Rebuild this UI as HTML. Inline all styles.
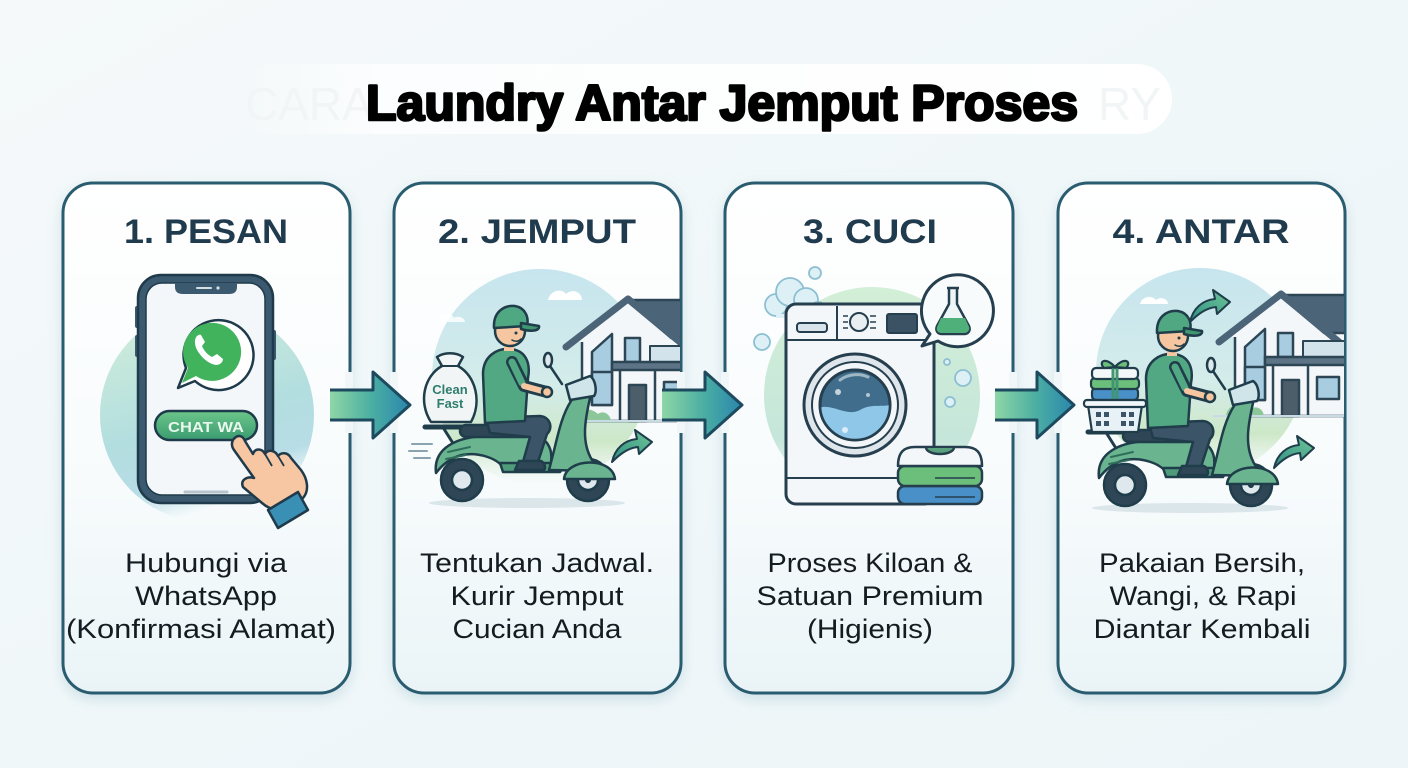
<!DOCTYPE html>
<html><head><meta charset="utf-8"><style>
html,body{margin:0;padding:0;width:1408px;height:768px;overflow:hidden;background:#f1f7f9}
svg{display:block}
</style></head><body>
<svg width="1408" height="768" viewBox="0 0 1408 768" xmlns="http://www.w3.org/2000/svg" xmlns:xlink="http://www.w3.org/1999/xlink">
<defs>
 <linearGradient id="bg" x1="0" y1="0" x2="1" y2="1">
  <stop offset="0" stop-color="#f5f9fa"/><stop offset="0.5" stop-color="#f0f7f9"/><stop offset="1" stop-color="#edf5f8"/>
 </linearGradient>
 <linearGradient id="cardg" x1="0" y1="0" x2="0" y2="1">
  <stop offset="0" stop-color="#ffffff"/><stop offset="0.6" stop-color="#f7fbfc"/><stop offset="1" stop-color="#eaf4f7"/>
 </linearGradient>
 <linearGradient id="c1g" x1="0" y1="0" x2="0.3" y2="1">
  <stop offset="0" stop-color="#d3efd9"/><stop offset="0.6" stop-color="#b3dedf"/><stop offset="0.85" stop-color="#a7d5e0" stop-opacity="0.8"/><stop offset="1" stop-color="#a7d5e0" stop-opacity="0"/>
 </linearGradient>
 <linearGradient id="skyg" x1="0" y1="0" x2="0" y2="1">
  <stop offset="0" stop-color="#c7e5ee"/><stop offset="0.55" stop-color="#d4ecea"/><stop offset="0.8" stop-color="#cde8c8"/><stop offset="1" stop-color="#dceedd" stop-opacity="0"/>
 </linearGradient>
 <linearGradient id="c3g" x1="0" y1="0" x2="0" y2="1">
  <stop offset="0" stop-color="#d3efd7"/><stop offset="0.7" stop-color="#c5e6da"/><stop offset="1" stop-color="#cfe9e4" stop-opacity="0.2"/>
 </linearGradient>
 <linearGradient id="arr" x1="0" y1="0" x2="1" y2="0">
  <stop offset="0" stop-color="#8ed6a6"/><stop offset="0.5" stop-color="#4db0a2"/><stop offset="1" stop-color="#2a86ad"/>
 </linearGradient>
 <linearGradient id="carr" x1="0" y1="1" x2="1" y2="0">
  <stop offset="0" stop-color="#2f8f84"/><stop offset="1" stop-color="#6fc597"/>
 </linearGradient>
 <linearGradient id="btn" x1="0" y1="0" x2="0" y2="1">
  <stop offset="0" stop-color="#6cc68a"/><stop offset="1" stop-color="#3a9c70"/>
 </linearGradient>
 <linearGradient id="blob" x1="0" y1="0" x2="1" y2="0">
  <stop offset="0" stop-color="#ffffff" stop-opacity="0"/><stop offset="0.15" stop-color="#ffffff" stop-opacity="0.75"/><stop offset="1" stop-color="#ffffff" stop-opacity="1"/>
 </linearGradient>
 <filter id="sh" x="-10%" y="-10%" width="120%" height="125%">
  <feDropShadow dx="0" dy="5" stdDeviation="7" flood-color="#8fb8c8" flood-opacity="0.35"/>
 </filter>
 <clipPath id="clip2"><rect x="396" y="185" width="284" height="506" rx="28"/></clipPath>
 <clipPath id="clip4"><rect x="1060" y="185" width="284" height="506" rx="28"/></clipPath>
 <clipPath id="glass"><circle cx="855" cy="405" r="35"/></clipPath>

 <path id="carrow" d="M0,32 C3,18 13,10 25,9 L23,0 L40,12 L27,24 L26,17 C16,18 8,24 0,32 Z" fill="url(#carr)" stroke="#1f3d4a" stroke-width="2" stroke-linejoin="round"/>

 <g id="house" stroke="#2c4656" stroke-width="2.5" stroke-linejoin="round">
  <path d="M628,300 L730,300 L730,342 L668,342 Z" fill="#4c6478"/>
  <rect x="582" y="338" width="150" height="83" fill="#f4f7f9"/>
  <path d="M576,342 L628,303 L674,342 Z" fill="#f4f7f9" stroke="none"/>
  <path d="M566,347 L628,299 L686,347" fill="none" stroke="#4c6478" stroke-width="7" stroke-linecap="round"/>
  <path d="M592,405 L592,352 L612,334 L612,405 Z" fill="#a9cde0"/>
  <rect x="625" y="338" width="15" height="24" fill="#a9cde0"/>
  <rect x="650" y="346" width="70" height="16" fill="#d3e3ec" stroke-width="2"/>
  <rect x="612" y="362" width="120" height="8" fill="#5d7386"/>
  <rect x="592" y="372" width="20" height="33" fill="#a9cde0"/>
  <line x1="620" y1="370" x2="620" y2="421"/>
  <rect x="629" y="385" width="17" height="36" fill="#4d5e6b"/>
  <rect x="664" y="382" width="22" height="22" fill="#a9cde0"/>
  <line x1="655" y1="370" x2="655" y2="421"/>
  <path d="M573,422 C573,410 588,405 598,414 C603,410 611,414 611,422 Z" fill="#8cc79a" stroke="none"/>
  <line x1="560" y1="421" x2="740" y2="421" stroke="#c9dbe2" stroke-width="2"/>
 </g>

 <g id="scoot" stroke="#1f3d4a" stroke-width="2.5" stroke-linejoin="round" stroke-linecap="round">
  <ellipse cx="527" cy="503" rx="98" ry="5" fill="#dbe6ea" stroke="none"/>
  <path d="M425,427 H480" stroke-width="5"/>
  <path d="M444,429 L456,448" stroke-width="3"/>
  <circle cx="462" cy="480" r="21" fill="#2e4656"/>
  <circle cx="462" cy="480" r="10" fill="#dfe8ec"/>
  <circle cx="588" cy="480" r="21" fill="#2e4656"/>
  <circle cx="588" cy="480" r="10" fill="#dfe8ec"/>
  <path d="M588,480 L574,440" stroke-width="6"/>
  <path d="M436,473 C433,449 455,436 490,436 L532,436 C546,436 553,448 551,462 L546,470 L505,471 C500,458 478,452 462,455 C450,458 442,465 436,473 Z" fill="#6ab48f"/>
  <path d="M448,452 L470,447 M446,459 L466,455" stroke="#2f6f5a" stroke-width="2"/>
  <path d="M500,463 L566,463 L560,472 L503,472 Z" fill="#4f9c7a"/>
  <path d="M549,470 C557,441 560,418 571,401 C576,392 586,392 590,398 C585,420 581,442 592,460 L602,471 Z" fill="#6ab48f"/>
  <path d="M564,479 C566,458 612,456 615,479 Z" fill="#6ab48f"/>
  <rect x="460" y="425" width="72" height="12" rx="6" fill="#2e4656"/>
  <path d="M562,384 L550,366" fill="none"/>
  <ellipse cx="548" cy="360" rx="4" ry="7" fill="#dfe8ec"/>
  <path d="M566,385 L590,376 C596,380 597,392 594,396 L570,400 Z" fill="#cfe5ea"/>
  <path d="M486,418 L540,416 C551,417 553,429 547,434 L538,462 L523,462 L530,437 L490,433 Z" fill="#3c5468"/>
  <path d="M519,461 L541,461 C545,463 546,468 544,470 L515,470 Z" fill="#2e4656"/>
  <path d="M483,374 C483,357 496,348 510,349 C525,350 531,362 528,378 L525,421 L485,423 Z" fill="#52a883"/>
  <path d="M512,362 L524,386 L547,392" fill="none" stroke="#1f3d4a" stroke-width="12"/>
  <path d="M512,362 L522,383" fill="none" stroke="#52a883" stroke-width="7"/>
  <path d="M524,386 L546,392" fill="none" stroke="#f5c6a0" stroke-width="6"/>
  <circle cx="547" cy="392" r="5" fill="#f5c6a0"/>
  <rect x="504" y="341" width="10" height="10" fill="#f5c6a0" stroke="none"/>
  <circle cx="510" cy="331" r="15" fill="#f5c6a0"/>
  <path d="M494,328 C493,311 505,305 515,306 C526,308 529,318 527,326 Z" fill="#4fa882"/>
  <path d="M521,323 L539,326 C540,331 531,332 521,329 Z" fill="#3f9670"/>
  <circle cx="516" cy="333" r="1.5" fill="#1f3d4a" stroke="none"/>
  <path d="M512,340 Q517,343 521,339" fill="none" stroke-width="1.5"/>
 </g>
</defs>

<rect width="1408" height="768" fill="url(#bg)"/>
<rect x="240" y="64" width="932" height="70" rx="35" fill="url(#blob)"/>
<text x="245" y="120" font-family="Liberation Sans, sans-serif" font-size="46" fill="#f2f5f6">CARA</text>
<text x="1098" y="120" font-family="Liberation Sans, sans-serif" font-size="46" fill="#f2f5f6">RY</text>

<text x="722" y="120" text-anchor="middle" textLength="712" lengthAdjust="spacingAndGlyphs" font-family="Liberation Sans, sans-serif" font-weight="bold" font-size="50" fill="#000" stroke="#000" stroke-width="2.6" stroke-linejoin="round">Laundry Antar Jemput Proses</text>

<g filter="url(#sh)">
 <rect x="63" y="183" width="287" height="510" rx="30" fill="url(#cardg)" stroke="#2b5b6f" stroke-width="3"/>
 <rect x="394" y="183" width="287" height="510" rx="30" fill="url(#cardg)" stroke="#2b5b6f" stroke-width="3"/>
 <rect x="725" y="183" width="288" height="510" rx="30" fill="url(#cardg)" stroke="#2b5b6f" stroke-width="3"/>
 <rect x="1058" y="183" width="287" height="510" rx="30" fill="url(#cardg)" stroke="#2b5b6f" stroke-width="3"/>
</g>

<g font-family="Liberation Sans, sans-serif" font-weight="bold" font-size="34" fill="#1f3b4d" text-anchor="middle">
 <text x="206" y="243" textLength="164" lengthAdjust="spacingAndGlyphs">1. PESAN</text>
 <text x="537" y="243" textLength="198" lengthAdjust="spacingAndGlyphs">2. JEMPUT</text>
 <text x="870" y="243" textLength="134" lengthAdjust="spacingAndGlyphs">3. CUCI</text>
 <text x="1201" y="243" textLength="177" lengthAdjust="spacingAndGlyphs">4. ANTAR</text>
</g>

<g font-family="Liberation Sans, sans-serif" font-size="27" fill="#141c22" text-anchor="middle">
 <text x="206" y="572" textLength="162" lengthAdjust="spacingAndGlyphs">Hubungi via</text>
 <text x="206" y="605" textLength="142" lengthAdjust="spacingAndGlyphs">WhatsApp</text>
 <text x="201" y="638" textLength="270" lengthAdjust="spacingAndGlyphs">(Konfirmasi Alamat)</text>
 <text x="537" y="572" textLength="234" lengthAdjust="spacingAndGlyphs">Tentukan Jadwal.</text>
 <text x="537" y="605" textLength="173" lengthAdjust="spacingAndGlyphs">Kurir Jemput</text>
 <text x="537" y="638" textLength="169" lengthAdjust="spacingAndGlyphs">Cucian Anda</text>
 <text x="870" y="572" textLength="205" lengthAdjust="spacingAndGlyphs">Proses Kiloan &amp;</text>
 <text x="870" y="605" textLength="227" lengthAdjust="spacingAndGlyphs">Satuan Premium</text>
 <text x="870" y="638" textLength="126" lengthAdjust="spacingAndGlyphs">(Higienis)</text>
 <text x="1202" y="572" textLength="206" lengthAdjust="spacingAndGlyphs">Pakaian Bersih,</text>
 <text x="1203" y="605" textLength="187" lengthAdjust="spacingAndGlyphs">Wangi, &amp; Rapi</text>
 <text x="1202" y="638" textLength="217" lengthAdjust="spacingAndGlyphs">Diantar Kembali</text>
</g>

<!-- CARD 1 -->
<circle cx="207" cy="415" r="107" fill="url(#c1g)"/>
<rect x="135" y="306" width="5" height="22" rx="2" fill="#3b5a70"/>
<rect x="135" y="335" width="5" height="22" rx="2" fill="#3b5a70"/>
<rect x="271" y="330" width="5" height="30" rx="2" fill="#3b5a70"/>
<rect x="138" y="275" width="135" height="228" rx="23" fill="#3b5a70" stroke="#1f3a4a" stroke-width="2.5"/>
<rect x="146" y="283" width="119" height="212" rx="16" fill="#f3f7fa" stroke="#1f3a4a" stroke-width="1.5"/>
<path d="M175,283 L237,283 L237,287 C237,292 234,294 229,294 L183,294 C178,294 175,292 175,287 Z" fill="#3b5a70"/>
<line x1="197" y1="288" x2="211" y2="288" stroke="#d5e0e6" stroke-width="2" stroke-linecap="round"/>
<circle cx="218" cy="288" r="1.6" fill="#d5e0e6"/>
<line x1="185" y1="492" x2="227" y2="492" stroke="#b7c4cc" stroke-width="3" stroke-linecap="round"/>
<path d="M178,388 L186,368 A35,35 0 1 1 195,381 Z" fill="#ffffff" stroke="#1f3a4a" stroke-width="2.5" stroke-linejoin="round"/>
<path d="M182,383 L188,368 A29,29 0 1 1 196,376 Z" fill="#41b35c"/>
<path d="M197,336 C194,339 194,346 199,353 C204,360 210,364 216,365 C220,365 223,362 223,359 L217,354 L212,357 C208,355 204,351 202,346 L205,342 L201,335 C200,334 198,335 197,336 Z" fill="#ffffff"/>
<rect x="155" y="411" width="102" height="29" rx="14.5" fill="url(#btn)" stroke="#1f3a4a" stroke-width="2.5"/>
<text x="206" y="432" text-anchor="middle" font-family="Liberation Sans, sans-serif" font-weight="bold" font-size="15" fill="#e9f7ee" textLength="76" lengthAdjust="spacingAndGlyphs">CHAT WA</text>
<path d="M236,437 C231,440 231,446 234,450 L254,478 C247,476 240,480 243,487 L262,503 C270,510 282,513 292,508 L303,498 C310,490 307,478 301,470 L291,458 C288,452 281,452 278,456 C275,450 268,449 265,454 C262,448 255,448 253,454 L245,441 C243,436 239,435 236,437 Z" fill="#f7c6a3" stroke="#1f3a4a" stroke-width="2.5" stroke-linejoin="round"/>
<path d="M265,454 L272,466 M278,456 L284,466" stroke="#1f3a4a" stroke-width="1.8" fill="none"/>
<path d="M268,510 L298,492 L308,510 L278,528 Z" fill="#3a8fb5" stroke="#1f3a4a" stroke-width="2.5" stroke-linejoin="round"/>

<!-- CARD 2 -->
<circle cx="540" cy="377" r="108" fill="url(#skyg)"/>
<path d="M548,300 C550,290 562,288 566,294 C572,288 582,292 582,300 Z" fill="#ffffff"/>
<path d="M438,320 C440,312 452,312 454,318 C458,315 465,318 465,322 L438,322 Z" fill="#ffffff" opacity="0.8"/>
<g clip-path="url(#clip2)"><use xlink:href="#house" href="#house"/></g>
<use xlink:href="#scoot" href="#scoot"/>
<path d="M431,422 C418,402 424,376 442,366 L437,357 C444,352 456,352 463,357 L458,366 C476,376 482,402 471,422 Z" fill="#f1f5f6" stroke="#1f3d4a" stroke-width="2.5" stroke-linejoin="round"/>
<path d="M440,366 L460,366" stroke="#1f3d4a" stroke-width="2"/>
<text x="450" y="394" text-anchor="middle" font-family="Liberation Sans, sans-serif" font-weight="bold" font-size="13" fill="#2e7d6d">Clean</text>
<text x="450" y="408" text-anchor="middle" font-family="Liberation Sans, sans-serif" font-weight="bold" font-size="13" fill="#2e7d6d">Fast</text>
<g stroke="#8aa3ae" stroke-width="2" stroke-linecap="round">
 <line x1="412" y1="444" x2="432" y2="444"/><line x1="409" y1="451" x2="427" y2="451"/><line x1="414" y1="458" x2="430" y2="458"/>
</g>
<use xlink:href="#carrow" href="#carrow" transform="translate(612,430)"/>

<!-- CARD 3 -->
<circle cx="872" cy="395" r="108" fill="url(#c3g)"/>
<g fill="#dcf0f6" stroke="#8dbfd2" stroke-width="1.8">
 <circle cx="776" cy="305" r="11"/><circle cx="790" cy="292" r="14"/><circle cx="806" cy="300" r="12"/><circle cx="818" cy="310" r="8"/>
 <circle cx="815" cy="273" r="6"/><circle cx="762" cy="342" r="8"/><circle cx="963" cy="378" r="8"/><circle cx="950" cy="402" r="5"/><circle cx="947" cy="362" r="3"/>
</g>
<path d="M776,316 L818,316" stroke="#dcf0f6" stroke-width="4"/>
<g stroke="#263f4e" stroke-width="3" stroke-linejoin="round">
 <rect x="786" y="304" width="148" height="200" rx="10" fill="#f4f7f9"/>
 <line x1="786" y1="340" x2="934" y2="340" stroke-width="2"/>
 <line x1="837" y1="306" x2="837" y2="340" stroke-width="2"/>
 <rect x="797" y="323" width="30" height="9" rx="3" fill="#d9e4ea" stroke-width="2"/>
 <circle cx="859" cy="322" r="9" fill="#e8eef2" stroke-width="2"/>
 <g stroke-width="1.5"><line x1="843" y1="316" x2="848" y2="316"/><line x1="843" y1="322" x2="848" y2="322"/><line x1="843" y1="328" x2="848" y2="328"/><line x1="870" y1="316" x2="876" y2="316"/><line x1="870" y1="322" x2="876" y2="322"/><line x1="870" y1="328" x2="876" y2="328"/></g>
 <rect x="887" y="314" width="30" height="19" rx="2" fill="#3a5263" stroke-width="2"/>
 <line x1="786" y1="478" x2="934" y2="478" stroke-width="2"/>
 <circle cx="855" cy="405" r="51" fill="#dfe6eb"/>
 <circle cx="855" cy="405" r="43" fill="#f3f6f8" stroke-width="2"/>
 <circle cx="855" cy="405" r="35" fill="#3f6d8b"/>
</g>
<g clip-path="url(#glass)">
 <path d="M815,410 C830,400 845,418 860,410 C872,403 882,408 895,404 L895,445 L815,445 Z" fill="#8ec7e8"/>
 <circle cx="838" cy="392" r="3" fill="#ffffff" opacity="0.7"/>
 <circle cx="845" cy="430" r="3" fill="#ffffff" opacity="0.7"/>
 <circle cx="868" cy="395" r="2" fill="#ffffff" opacity="0.6"/>
 <path d="M840,380 C848,374 860,373 868,377" stroke="#ffffff" stroke-width="3" fill="none" opacity="0.5" stroke-linecap="round"/>
</g>
<circle cx="855" cy="405" r="35" fill="none" stroke="#263f4e" stroke-width="2.5"/>
<path d="M922,346 L930,334 A36,36 0 1 1 938,341 Z" fill="#f7fbfc" stroke="#263f4e" stroke-width="3" stroke-linejoin="round"/>
<path d="M947,288 L959,288 M949,289 L949,304 L937,326 C935,331 938,334 942,334 L964,334 C968,334 971,331 969,326 L957,304 L957,289" fill="#eef5f7" stroke="#263f4e" stroke-width="2.5" stroke-linejoin="round"/>
<path d="M941,318 L965,318 L969,327 C970,331 967,333 964,333 L942,333 C938,333 936,331 937,327 Z" fill="#4fb07a"/>
<g stroke="#263f4e" stroke-width="2.5" stroke-linejoin="round">
 <rect x="898" y="486" width="84" height="18" rx="7" fill="#4a90c8"/>
 <rect x="898" y="466" width="84" height="20" rx="7" fill="#6cbf7a"/>
 <path d="M898,466 C898,452 904,447 915,447 L965,447 C976,447 982,452 982,466 Z" fill="#f4f7f9"/>
 <path d="M926,448 C928,456 952,456 954,448" fill="#5aa17d"/>
 <line x1="935" y1="478" x2="975" y2="478" stroke-width="1.5"/>
 <line x1="935" y1="497" x2="975" y2="497" stroke-width="1.5"/>
</g>

<!-- CARD 4 -->
<circle cx="1200" cy="372" r="104" fill="url(#skyg)"/>
<path d="M1140,304 C1142,296 1152,295 1156,300 C1161,296 1168,299 1168,304 Z" fill="#ffffff"/>
<g clip-path="url(#clip4)"><use xlink:href="#house" href="#house" transform="translate(653,-5)"/></g>
<use xlink:href="#scoot" href="#scoot" transform="translate(663,5)"/>
<g stroke="#1f3d4a" stroke-width="2.2" stroke-linejoin="round">
 <rect x="1092" y="388" width="46" height="12" rx="4" fill="#4a90c8"/>
 <rect x="1091" y="378" width="48" height="11" rx="4" fill="#6cbf7a"/>
 <rect x="1092" y="368" width="46" height="11" rx="4" fill="#f4f7f9"/>
 <path d="M1113,368 L1113,405 M1117,368 L1117,405" stroke="#3f9670" stroke-width="3"/>
 <path d="M1115,367 C1105,356 1098,362 1104,368 Z M1115,367 C1125,356 1132,362 1126,368 Z" fill="#6cbf7a"/>
 <path d="M1088,405 L1142,405 L1138,432 L1092,432 Z" fill="#e8f1f5"/>
 <rect x="1084" y="400" width="62" height="7" rx="3" fill="#f1f6f8"/>
 <g fill="#3c5468" stroke="none">
  <rect x="1096" y="412" width="5" height="5"/><rect x="1104" y="412" width="5" height="5"/><rect x="1121" y="412" width="5" height="5"/><rect x="1129" y="412" width="5" height="5"/>
  <rect x="1096" y="421" width="5" height="5"/><rect x="1104" y="421" width="5" height="5"/><rect x="1121" y="421" width="5" height="5"/><rect x="1129" y="421" width="5" height="5"/>
 </g>
</g>
<use xlink:href="#carrow" href="#carrow" transform="translate(1190,290)"/>
<use xlink:href="#carrow" href="#carrow" transform="translate(1274,436)"/>

<g fill="#f1f7f9">
 <rect x="345" y="372" width="8" height="61"/>
 <rect x="390" y="372" width="8" height="61"/>
 <rect x="677" y="372" width="8" height="61"/>
 <rect x="721" y="372" width="8" height="61"/>
 <rect x="1009" y="372" width="8" height="61"/>
 <rect x="1054" y="372" width="8" height="61"/>
</g>

<g stroke="#1d4a5e" stroke-width="3" stroke-linejoin="round">
 <path d="M330,390 H373 V372 L410,405 L373,438 V420 H330 Z" fill="url(#arr)" stroke="none"/>
 <path d="M330,390 H373 V372 L410,405 L373,438 V420 H330" fill="none"/>
 <path d="M662,390 H705 V372 L742,405 L705,438 V420 H662 Z" fill="url(#arr)" stroke="none"/>
 <path d="M662,390 H705 V372 L742,405 L705,438 V420 H662" fill="none"/>
 <path d="M995,390 H1037 V372 L1074,405 L1037,438 V420 H995 Z" fill="url(#arr)" stroke="none"/>
 <path d="M995,390 H1037 V372 L1074,405 L1037,438 V420 H995" fill="none"/>
</g>
</svg>
</body></html>
